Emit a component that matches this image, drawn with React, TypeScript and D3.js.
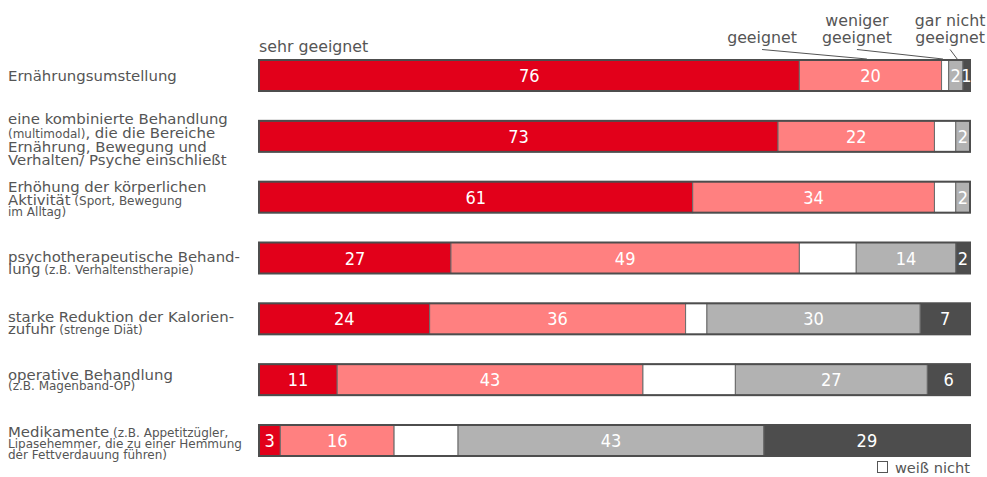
import React from "react";
import * as d3 from "d3";

// ---- data ----
const categories = [
  "Ernährungsumstellung",
  "kombinierte Behandlung",
  "Erhöhung der körperlichen Aktivität",
  "psychotherapeutische Behandlung",
  "starke Reduktion der Kalorienzufuhr",
  "operative Behandlung",
  "Medikamente",
];
const seriesNames = ["sehr geeignet", "geeignet", "weiß nicht", "weniger geeignet", "gar nicht geeignet"];
const sehrGeeignet = [76, 73, 61, 27, 24, 11, 3];
const geeignet = [20, 22, 34, 49, 36, 43, 16];
const weissNicht = [1, 3, 3, 8, 3, 13, 9];
const wenigerGeeignet = [2, 2, 2, 14, 30, 27, 43];
const garNichtGeeignet = [1, 0, 0, 2, 7, 6, 29];
const seriesColors = ["#e2001a", "#ff8080", "#ffffff", "#b2b2b2", "#4d4d4d"];

// label lines: each line is a list of [text, small?]
const labelLines: [string, boolean][][][] = [
  [[["Ernährungsumstellung", false]]],
  [
    [["eine kombinierte Behandlung", false]],
    [["(multimodal)", true], [", die die Bereiche", false]],
    [["Ernährung, Bewegung und", false]],
    [["Verhalten/ Psyche einschließt", false]],
  ],
  [
    [["Erhöhung der körperlichen", false]],
    [["Aktivität", false], [" (Sport, Bewegung", true]],
    [["im Alltag)", true]],
  ],
  [
    [["psychotherapeutische Behand-", false]],
    [["lung", false], [" (z.B. Verhaltenstherapie)", true]],
  ],
  [
    [["starke Reduktion der Kalorien-", false]],
    [["zufuhr", false], [" (strenge Diät)", true]],
  ],
  [
    [["operative Behandlung", false]],
    [["(z.B. Magenband-OP)", true]],
  ],
  [
    [["Medikamente", false], [" (z.B. Appetitzügler,", true]],
    [["Lipasehemmer, die zu einer Hemmung", true]],
    [["der Fettverdauung führen)", true]],
  ],
];
// header annotation: label lines, the percent position of the label centre and of the leader's end
const headerLabels = [
  { lines: ["geeignet"], target: 85.5, anchor: 70.75 },
  { lines: ["weniger", "geeignet"], target: 96.2, anchor: 84.1 },
  { lines: ["gar nicht", "geeignet"], target: 98.2, anchor: 97.2 },
];
const legendLabel = "weiß nicht";

// baseline offsets (relative to bar top) per row per line
const lineOffsets = [
  [21],
  [3, 17, 31, 44.5],
  [10.5, 23, 34.5],
  [19.5, 31.5],
  [18.5, 30.5],
  [15.5, 26],
  [12.5, 23.5, 34.5],
];

const W = 987;
const H = 477;
const FONT = "'DejaVu Sans', Verdana, sans-serif";
const TEXT = "#555555";
const BIG = 14.9;
const SMALL = 12;

export default function App() {
  const x = d3.scaleLinear().domain([0, 100]).range([259, 970]);
  const y = d3.scaleBand<string>().domain(categories).range([60, 456]).paddingInner(0.4904).paddingOuter(0);
  const bh = y.bandwidth();

  const values = [sehrGeeignet, geeignet, weissNicht, wenigerGeeignet, garNichtGeeignet];
  const rows = categories.map((c, i) => {
    const obj: any = { cat: c };
    seriesNames.forEach((s, k) => (obj[s] = values[k][i]));
    return obj;
  });
  const stacked = d3.stack<any>().keys(seriesNames)(rows);

  const y0 = y(categories[0])!;

  return (
    <svg width={W} height={H} style={{ position: "absolute", left: 0, top: 0, fontFamily: FONT }}>
      <rect width={W} height={H} fill="#fff" />
      {/* category labels */}
      {categories.map((c, i) => (
        <text key={c} fill={TEXT} fontFamily={FONT}>
          {labelLines[i].map((line, li) => (
            <tspan key={li} x={8} y={y(c)! + lineOffsets[i][li]}>
              {line.map(([t, small], k) => (
                <tspan key={k} fontSize={small ? SMALL : BIG}>
                  {t}
                </tspan>
              ))}
            </tspan>
          ))}
        </text>
      ))}

      {/* bars */}
      {stacked.map((layer, k) =>
        layer.map((d, i) => {
          const w = x(d[1]) - x(d[0]);
          if (w <= 0) return null;
          return (
            <rect
              key={`${k}-${i}`}
              x={x(d[0])}
              y={y(categories[i])}
              width={w}
              height={bh}
              fill={seriesColors[k]}
              stroke="#6a6a6a"
              strokeWidth={1}
            />
          );
        })
      )}
      {categories.map((c) => (
        <rect key={"o" + c} x={x(0)} y={y(c)} width={x(100) - x(0)} height={bh} fill="none" stroke="#4d4d4d" strokeWidth={2} />
      ))}
      {/* value labels */}
      {stacked.map((layer, k) =>
        k === 2
          ? null
          : layer.map((d, i) => {
              const v = d[1] - d[0];
              if (v <= 0) return null;
              return (
                <text
                  key={`t${k}-${i}`}
                  x={(x(d[0]) + x(d[1])) / 2}
                  y={y(categories[i])! + bh / 2 + 6.5}
                  textAnchor="middle"
                  fill="#fff"
                  fontSize={18}
                  fontFamily="'DejaVu Sans Condensed', 'DejaVu Sans', sans-serif"
                >
                  {v}
                </text>
              );
            })
      )}

      {/* header labels */}
      <text x={x(0)} y={52} fill={TEXT} fontSize={15.8} fontFamily={FONT}>
        {seriesNames[0]}
      </text>
      {headerLabels.map((h, i) => {
        const cx = x(h.anchor);
        return (
          <g key={i}>
            {h.lines.map((l, li) => (
              <text
                key={li}
                x={cx}
                y={42.5 - (h.lines.length - 1 - li) * 17}
                textAnchor="middle"
                fill={TEXT}
                fontSize={15.8}
                fontFamily={FONT}
              >
                {l}
              </text>
            ))}
            <line x1={cx} y1={49.5} x2={x(h.target)} y2={y0 - 1} stroke="#555" strokeWidth={1} />
          </g>
        );
      })}

      {/* legend */}
      <g>
        <rect x={877.5} y={461.5} width={10} height={11} fill="#fff" stroke="#555" strokeWidth={1} />
        <text x={x(100)} y={472.5} textAnchor="end" fill={TEXT} fontSize={14.6} fontFamily={FONT}>
          {legendLabel}
        </text>
      </g>
    </svg>
  );
}
